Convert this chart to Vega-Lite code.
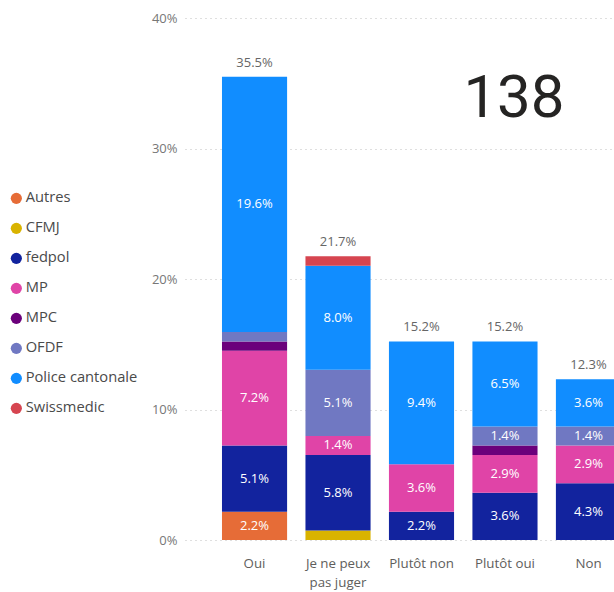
{
  "$schema": "https://vega.github.io/schema/vega-lite/v6.json",
  "width": 429,
  "height": 522,
  "autosize": "none",
  "padding": {"left": 185, "top": 18, "right": 0, "bottom": 52},
  "background": "white",
  "config": {
    "view": {"stroke": null},
    "font": "Open Sans",
    "axis": {"labelFont": "Open Sans"},
    "legend": {"labelFont": "Open Sans"}
  },
  "data": {
    "values": [
      {"reponse": "Oui", "autorite": "Autres", "n": 3, "pct": 0.021739},
      {"reponse": "Oui", "autorite": "fedpol", "n": 7, "pct": 0.050725},
      {"reponse": "Oui", "autorite": "MP", "n": 10, "pct": 0.072464},
      {"reponse": "Oui", "autorite": "MPC", "n": 1, "pct": 0.007246},
      {"reponse": "Oui", "autorite": "OFDF", "n": 1, "pct": 0.007246},
      {"reponse": "Oui", "autorite": "Police cantonale", "n": 27, "pct": 0.195652},
      {"reponse": "Je ne peux pas juger", "autorite": "CFMJ", "n": 1, "pct": 0.007246},
      {"reponse": "Je ne peux pas juger", "autorite": "fedpol", "n": 8, "pct": 0.057971},
      {"reponse": "Je ne peux pas juger", "autorite": "MP", "n": 2, "pct": 0.014493},
      {"reponse": "Je ne peux pas juger", "autorite": "OFDF", "n": 7, "pct": 0.050725},
      {"reponse": "Je ne peux pas juger", "autorite": "Police cantonale", "n": 11, "pct": 0.07971},
      {"reponse": "Je ne peux pas juger", "autorite": "Swissmedic", "n": 1, "pct": 0.007246},
      {"reponse": "Plutôt non", "autorite": "fedpol", "n": 3, "pct": 0.021739},
      {"reponse": "Plutôt non", "autorite": "MP", "n": 5, "pct": 0.036232},
      {"reponse": "Plutôt non", "autorite": "Police cantonale", "n": 13, "pct": 0.094203},
      {"reponse": "Plutôt oui", "autorite": "fedpol", "n": 5, "pct": 0.036232},
      {"reponse": "Plutôt oui", "autorite": "MP", "n": 4, "pct": 0.028986},
      {"reponse": "Plutôt oui", "autorite": "MPC", "n": 1, "pct": 0.007246},
      {"reponse": "Plutôt oui", "autorite": "OFDF", "n": 2, "pct": 0.014493},
      {"reponse": "Plutôt oui", "autorite": "Police cantonale", "n": 9, "pct": 0.065217},
      {"reponse": "Non", "autorite": "fedpol", "n": 6, "pct": 0.043478},
      {"reponse": "Non", "autorite": "MP", "n": 4, "pct": 0.028986},
      {"reponse": "Non", "autorite": "OFDF", "n": 2, "pct": 0.014493},
      {"reponse": "Non", "autorite": "Police cantonale", "n": 5, "pct": 0.036232}
    ]
  },
  "transform": [
    {"calculate": "indexof(['Autres', 'CFMJ', 'fedpol', 'MP', 'MPC', 'OFDF', 'Police cantonale', 'Swissmedic'], datum.autorite)", "as": "rang"}
  ],
  "encoding": {
    "x": {
      "field": "reponse",
      "type": "nominal",
      "scale": {
        "domain": ["Oui", "Je ne peux pas juger", "Plutôt non", "Plutôt oui", "Non"],
        "range": [0, 473],
        "paddingInner": 0.22,
        "paddingOuter": 0.443
      },
      "axis": {
        "title": null,
        "labelAngle": 0,
        "domain": false,
        "ticks": false,
        "labelColor": "#605E5C",
        "labelFontSize": 13.3,
        "labelPadding": 16,
        "labelLineHeight": 19,
        "labelExpr": "datum.value == 'Je ne peux pas juger' ? ['Je ne peux', 'pas juger'] : datum.value"
      }
    },
    "color": {
      "field": "autorite",
      "type": "nominal",
      "sort": ["Autres", "CFMJ", "fedpol", "MP", "MPC", "OFDF", "Police cantonale", "Swissmedic"],
      "scale": {
        "domain": ["Autres", "CFMJ", "fedpol", "MP", "MPC", "OFDF", "Police cantonale", "Swissmedic"],
        "range": ["#E66C37", "#D9B300", "#12239E", "#E044A7", "#6B007B", "#7078C2", "#118DFF", "#D64550"]
      },
      "legend": {
        "title": null,
        "orient": "none",
        "legendX": -176,
        "legendY": 173,
        "symbolType": "circle",
        "symbolSize": 125,
        "symbolStrokeWidth": 0,
        "labelFontSize": 14.7,
        "labelColor": "#4a4a4a",
        "labelOffset": 2,
        "rowPadding": 14,
        "padding": 0
      }
    },
    "order": {"field": "rang", "type": "quantitative", "sort": "ascending"}
  },
  "layer": [
    {
      "mark": {"type": "bar", "clip": true},
      "encoding": {
        "y": {
          "field": "pct",
          "type": "quantitative",
          "stack": "zero",
          "scale": {"domain": [0, 0.4]},
          "axis": {
            "title": null,
            "values": [0, 0.1, 0.2, 0.3, 0.4],
            "format": ".0%",
            "domain": false,
            "ticks": false,
            "grid": true,
            "gridDash": [1, 4],
            "gridColor": "#bfbfbf",
            "labelColor": "#777777",
            "labelFontSize": 13,
            "labelPadding": 8
          }
        }
      }
    },
    {
      "mark": {"type": "text", "fontSize": 13, "baseline": "middle", "clip": true},
      "encoding": {
        "y": {"field": "pct", "type": "quantitative", "stack": "zero", "bandPosition": 0.5},
        "text": {
          "condition": {"test": "datum.n >= 2", "field": "pct", "type": "quantitative", "format": ".1%"},
          "value": ""
        },
        "fill": {"value": "white"}
      }
    },
    {
      "mark": {"type": "text", "color": "#666666", "fontSize": 13, "baseline": "middle", "dy": -14},
      "encoding": {
        "color": null,
        "order": null,
        "y": {"aggregate": "sum", "field": "pct", "type": "quantitative"},
        "text": {"aggregate": "sum", "field": "pct", "type": "quantitative", "format": ".1%"}
      }
    },
    {
      "transform": [{"aggregate": [{"op": "sum", "field": "n", "as": "total"}]}],
      "mark": {"type": "text", "font": "Roboto", "fontSize": 60, "color": "#252423", "align": "center", "baseline": "alphabetic", "dx": 9},
      "encoding": {
        "color": null,
        "order": null,
        "x": {"datum": "Plutôt oui"},
        "y": {"datum": 0.324},
        "text": {"field": "total", "type": "quantitative"}
      }
    }
  ]
}
